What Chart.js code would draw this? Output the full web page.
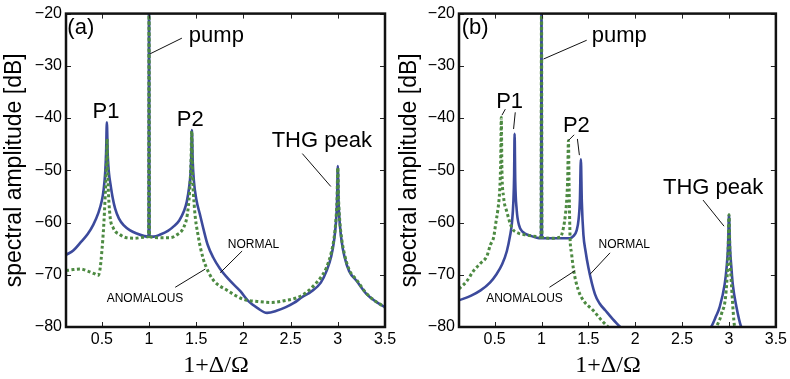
<!DOCTYPE html>
<html>
<head>
<meta charset="utf-8">
<script src="https://cdn.jsdelivr.net/npm/chart.js@4"></script>
<style>
html,body{margin:0;padding:0;background:#fff;}
#wrap{position:relative;width:790px;height:379px;overflow:hidden;}
#ca{position:absolute;left:0;top:0;}
#cb{position:absolute;left:395px;top:0;}
</style>
</head>
<body>
<div id="wrap">
<canvas id="ca" width="400" height="379"></canvas>
<canvas id="cb" width="395" height="379"></canvas>
</div>
<script>
// ---------- tick values ----------
const xTicks = [0.5, 1, 1.5, 2, 2.5, 3, 3.5];
const yTicks = [-80, -70, -60, -50, -40, -30, -20];

// ---------- panel (a) ----------
const aNormalX = [0.12,0.2,0.27,0.35,0.41,0.46,0.5,0.52,0.535,0.545,0.553,0.562,0.575,0.59,0.615,0.64,0.68,0.73,0.8,0.87,0.95,0.995,1.0,1.005,1.05,1.12,1.2,1.27,1.32,1.37,1.4,1.425,1.44,1.448,1.454,1.462,1.475,1.5,1.54,1.58,1.62,1.68,1.75,1.85,1.97,2.05,2.15,2.25,2.35,2.45,2.535,2.62,2.72,2.82,2.88,2.93,2.96,2.98,2.992,3.0,3.008,3.02,3.04,3.07,3.12,3.2,3.3,3.4,3.5];
const aNormalY = [-66.2,-65.3,-63.9,-62.2,-60.4,-58.3,-55.8,-53.5,-50.5,-46.5,-40.8,-47,-50.5,-52.5,-55.3,-57.3,-59.2,-60.5,-61.5,-62.1,-62.6,-62.7,-15,-62.7,-62.7,-62.3,-61.6,-60.6,-59.6,-57.8,-56,-53.2,-50.5,-47,-42.3,-48,-52,-55.5,-58.5,-61.5,-64.2,-66.7,-68.8,-71,-73.2,-75,-76.4,-77.3,-76.9,-76.2,-75.4,-74.3,-73.2,-71.5,-69.3,-66.5,-63.5,-60,-56,-49.2,-56,-60,-63.5,-66.5,-69.3,-71.2,-73.6,-75.1,-76.2];
const aAnomX = [0.12,0.2,0.27,0.35,0.42,0.46,0.48,0.5,0.52,0.535,0.548,0.555,0.565,0.585,0.62,0.69,0.76,0.85,0.95,0.995,1.0,1.005,1.1,1.22,1.3,1.365,1.405,1.43,1.445,1.452,1.46,1.48,1.52,1.575,1.61,1.68,1.83,2.0,2.15,2.3,2.45,2.55,2.65,2.75,2.82,2.88,2.93,2.96,2.98,2.992,3.0,3.008,3.02,3.04,3.07,3.12,3.2,3.3,3.4,3.5];
const aAnomY = [-69.2,-69.0,-68.9,-69.3,-69.8,-70.1,-69,-65.5,-60.5,-55,-49,-44,-52,-58.5,-61,-62.3,-62.9,-63.0,-62.8,-62.7,-15,-62.7,-62.9,-62.9,-62.3,-61,-58.5,-54,-48,-42.5,-50,-57,-62.5,-67,-68.7,-71,-73,-74.7,-75.1,-75.3,-74.9,-74.5,-73.6,-72,-70.5,-68.6,-65.8,-63,-59.5,-55.5,-49.5,-55.5,-59.5,-63,-66,-69,-71,-73.5,-75.1,-76.2];

// ---------- panel (b) ----------
const bNormalX = [0.12,0.25,0.35,0.45,0.52,0.58,0.63,0.665,0.685,0.7,0.708,0.713,0.72,0.735,0.76,0.8,0.88,0.95,0.995,1.0,1.005,1.1,1.2,1.3,1.34,1.375,1.395,1.41,1.42,1.43,1.447,1.47,1.5,1.57,1.62,1.68,1.76,1.84,1.9,2.3,2.75,2.81,2.86,2.9,2.954,2.975,2.99,3.0,3.01,3.025,3.04,3.08,3.13,3.18];
const bNormalY = [-74.9,-74,-73,-71.5,-69.9,-68,-65.5,-62.5,-60,-56,-51,-43,-52,-57.5,-60.5,-61.8,-62.5,-62.9,-63,-15,-63,-63,-63,-63,-62.6,-61.5,-59.5,-55.5,-47.9,-56,-62.3,-65.5,-68.6,-73.7,-75.5,-76.8,-78.5,-80,-81.2,null,-81.5,-80,-78,-76.2,-71.8,-68.5,-64.5,-58.5,-64.5,-68.5,-71.8,-76.2,-80,-81.5];
const bAnomX = [0.12,0.2,0.277,0.35,0.418,0.454,0.49,0.51,0.535,0.55,0.56,0.566,0.571,0.578,0.595,0.63,0.684,0.75,0.85,0.95,0.995,1.0,1.005,1.1,1.2,1.234,1.255,1.27,1.28,1.287,1.295,1.305,1.32,1.34,1.39,1.45,1.55,1.64,1.71,1.76,2.3,2.82,2.865,2.92,2.97,2.99,3.0,3.01,3.03,3.06,3.1];
const bAnomY = [-72.7,-71.3,-69.2,-67.8,-66.4,-64.3,-62.8,-60.4,-57.5,-55,-51.5,-47,-39.9,-50,-55,-57.9,-61,-62,-62.4,-62.7,-62.8,-15,-62.8,-63,-62.8,-61,-58.5,-55.4,-51,-44.3,-54,-63,-65.8,-68.8,-72.8,-75,-76.8,-78.7,-80,-81,null,-81.5,-80,-77.5,-73,-66,-58.5,-66,-73,-80,-81.5];

// ---------- annotations (data coordinates) ----------
const annA = [
  {text:'(a)', x:0.277, y:-23.98, big:true},
  {text:'pump', x:1.713, y:-25.49, big:true},
  {text:'P1', x:0.543, y:-40.08, big:true},
  {text:'P2', x:1.436, y:-41.59, big:true},
  {text:'THG peak', x:2.83, y:-45.57, big:true},
  {text:'NORMAL', x:2.106, y:-64.89, big:false},
  {text:'ANOMALOUS', x:0.957, y:-75.3, big:false}
];
const leadA = [[1.011,-27.7,1.348,-24.7],[2.624,-46.8,2.926,-53.1],[1.986,-65.45,1.755,-69.6],[1.277,-72.4,1.596,-68.9]];
const annB = [
  {text:'(b)', x:0.293, y:-23.98, big:true},
  {text:'pump', x:1.83, y:-25.49, big:true},
  {text:'P1', x:0.66, y:-37.99, big:true},
  {text:'P2', x:1.372, y:-42.73, big:true},
  {text:'THG peak', x:2.83, y:-54.47, big:true},
  {text:'NORMAL', x:1.883, y:-64.89, big:false},
  {text:'ANOMALOUS', x:0.819, y:-75.3, big:false}
];
const leadB = [[1.021,-28.7,1.482,-25.1],[0.578,-39.45,0.614,-38.3],[0.702,-42.1,0.72,-38.9],[1.287,-44.3,1.348,-43.2],[1.404,-47.1,1.383,-44.0],[2.723,-55.7,2.947,-60.7],[1.731,-65.8,1.518,-69.9],[1.085,-72.4,1.359,-69.2]];

const BLUE = '#3c4a9c';
const GREEN = '#4d8a42';

function pts(xs, ys){ return xs.map((x,i)=>({x:x, y:ys[i]})); }

const framePlugin = {
  id:'frame',
  afterDraw(chart, args, opts){
    const {ctx, chartArea:{left,right,top,bottom}} = chart;
    const xs = chart.scales.x, ys = chart.scales.y;
    ctx.save();
    ctx.strokeStyle = '#222'; ctx.lineWidth = 1;
    ctx.beginPath();
    xTicks.forEach(v=>{
      const px = Math.round(xs.getPixelForValue(v))+0.5;
      ctx.moveTo(px,bottom); ctx.lineTo(px,bottom-5);
      ctx.moveTo(px,top); ctx.lineTo(px,top+5);
    });
    yTicks.forEach(v=>{
      const py = Math.round(ys.getPixelForValue(v))+0.5;
      ctx.moveTo(left,py); ctx.lineTo(left+5,py);
      ctx.moveTo(right,py); ctx.lineTo(right-5,py);
    });
    ctx.stroke();
    ctx.lineWidth = 2.5; ctx.strokeStyle = '#111';
    ctx.strokeRect(left,top,right-left,bottom-top);
    // leaders
    ctx.lineWidth = 1; ctx.strokeStyle = '#111';
    ctx.beginPath();
    opts.leaders.forEach(l=>{
      ctx.moveTo(xs.getPixelForValue(l[0]), ys.getPixelForValue(l[1]));
      ctx.lineTo(xs.getPixelForValue(l[2]), ys.getPixelForValue(l[3]));
    });
    ctx.stroke();
    // texts
    ctx.fillStyle = '#000'; ctx.textAlign = 'center'; ctx.textBaseline = 'alphabetic';
    opts.texts.forEach(t=>{
      ctx.font = t.big ? '22px "Liberation Sans", Arial, sans-serif' : '12px "Liberation Sans", Arial, sans-serif';
      ctx.fillText(t.text, xs.getPixelForValue(t.x), ys.getPixelForValue(t.y));
    });
    // x axis title
    ctx.font = '24px "Liberation Serif", "Times New Roman", serif';
    ctx.fillText('1+\u0394/\u03A9', xs.getPixelForValue(1.71), 372);
    ctx.restore();
  }
};

function makeChart(id, normal, anom, texts, leaders, padRight, yWidth){
  return new Chart(document.getElementById(id), {
    type:'line',
    data:{datasets:[
      {label:'NORMAL', data:normal, borderColor:BLUE, borderWidth:2.6, pointRadius:0, cubicInterpolationMode:'monotone', spanGaps:false, order:2},
      {label:'ANOMALOUS', data:anom, borderColor:GREEN, borderWidth:3, borderDash:[3,2.5], pointRadius:0, cubicInterpolationMode:'monotone', spanGaps:false, order:1}
    ]},
    options:{
      responsive:false, animation:false, devicePixelRatio:1,
      layout:{padding:{top:10,right:padRight,left:0,bottom:0}},
      plugins:{legend:{display:false}, tooltip:{enabled:false}, frame:{texts:texts, leaders:leaders}},
      scales:{
        x:{type:'linear', min:0.12, max:3.5,
           grid:{display:false, drawTicks:false}, border:{display:false},
           afterBuildTicks:s=>{ s.ticks = xTicks.map(v=>({value:v})); },
           afterFit:s=>{ s.height = 52; },
           ticks:{autoSkip:false, maxRotation:0, padding:3, color:'#000',
                  font:{family:'"Liberation Sans", Arial, sans-serif', size:16},
                  callback:v=>String(v)}},
        y:{type:'linear', min:-80, max:-20,
           grid:{display:false, drawTicks:false}, border:{display:false},
           afterBuildTicks:s=>{ s.ticks = yTicks.map(v=>({value:v})); },
           afterFit:s=>{ s.width = yWidth; },
           title:{display:true, text:'spectral amplitude [dB]', color:'#000', padding:{top:1,bottom:0},
                  font:{family:'"Liberation Sans", Arial, sans-serif', size:23}},
           ticks:{padding:4, color:'#000',
                  font:{family:'"Liberation Sans", Arial, sans-serif', size:16},
                  callback:v=>(v<0?'\u2212':'')+Math.abs(v)}}
      }
    },
    plugins:[framePlugin]
  });
}

makeChart('ca', pts(aNormalX,aNormalY), pts(aAnomX,aAnomY), annA, leadA, 15, 66);
makeChart('cb', pts(bNormalX,bNormalY), pts(bAnomX,bAnomY), annB, leadB, 12, 64);
</script>
</body>
</html>
